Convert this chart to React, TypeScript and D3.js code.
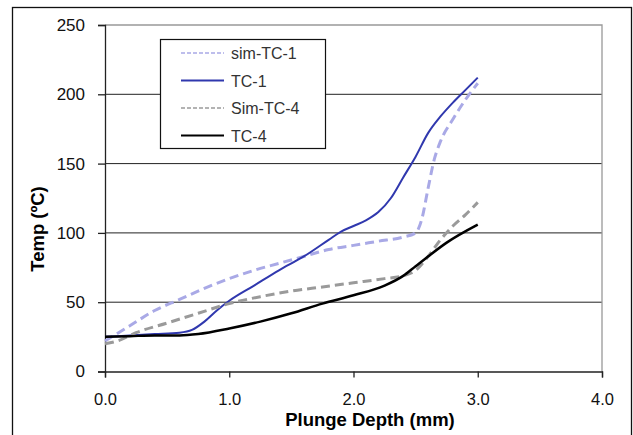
import React, { useEffect, useRef } from 'react';
import * as d3 from 'd3';

// depth (mm), temperature (°C)
const simTC1: [number, number][] = [
  [0, 22], [0.2, 33], [0.4, 44], [0.6, 52], [0.8, 60], [1.0, 67], [1.2, 73], [1.4, 78],
  [1.6, 83], [1.8, 88], [2.0, 91], [2.2, 94], [2.4, 97], [2.5, 100], [2.55, 110],
  [2.6, 132], [2.65, 153], [2.7, 166], [2.8, 182], [2.9, 196], [3.0, 208],
];
const tc1: [number, number][] = [
  [0, 25], [0.2, 26], [0.4, 27], [0.6, 28], [0.7, 30], [0.8, 36], [0.9, 44], [1.0, 51],
  [1.2, 62], [1.4, 73], [1.6, 83], [1.8, 95], [1.9, 101], [2.0, 105], [2.1, 109],
  [2.2, 115], [2.3, 125], [2.4, 140], [2.5, 155], [2.6, 172], [2.7, 184], [2.8, 194],
  [2.9, 203], [3.0, 212],
];
const simTC4: [number, number][] = [
  [0, 20], [0.1, 22], [0.25, 28], [0.5, 35], [0.75, 42], [1.0, 49], [1.25, 54], [1.5, 58],
  [1.75, 61], [2.0, 64], [2.25, 67], [2.4, 69], [2.5, 73], [2.6, 83], [2.7, 95],
  [2.8, 105], [2.9, 113], [3.0, 122],
];
const tc4: [number, number][] = [
  [0, 25], [0.2, 25.5], [0.4, 26], [0.6, 26], [0.75, 27], [1.0, 31], [1.25, 36], [1.5, 42],
  [1.75, 49], [2.0, 55], [2.25, 62], [2.4, 69], [2.5, 76], [2.6, 83], [2.75, 93], [3.0, 106],
];

const xTicks = [0, 1, 2, 3, 4];
const yTicks = [0, 50, 100, 150, 200, 250];

const series = [
  { name: 'sim-TC-1', data: simTC1, color: '#a9a9e6', width: 3, dash: '9,5' },
  { name: 'TC-1', data: tc1, color: '#3038ae', width: 2, dash: null },
  { name: 'Sim-TC-4', data: simTC4, color: '#9a9a9a', width: 3, dash: '9,5' },
  { name: 'TC-4', data: tc4, color: '#000000', width: 2.5, dash: null },
];

function App() {
  const ref = useRef<SVGSVGElement>(null);

  useEffect(() => {
    document.body.style.margin = '0';
    const svg = d3.select(ref.current);
    svg.selectAll('*').remove();
    const font = 'Liberation Sans, Arial, sans-serif';

    // outer frame
    svg.append('rect')
      .attr('x', 12.5).attr('y', 7.5).attr('width', 619).attr('height', 440)
      .attr('fill', 'white').attr('stroke', '#111').attr('stroke-width', 1.3);

    const x = d3.scaleLinear().domain([0, 4]).range([105, 602]);
    const y = d3.scaleLinear().domain([0, 250]).range([371.5, 25]);

    // gridlines
    svg.append('g').selectAll('line')
      .data(yTicks.filter(t => t > 0 && t < 250))
      .enter().append('line')
      .attr('x1', x(0)).attr('x2', x(4))
      .attr('y1', d => y(d)).attr('y2', d => y(d))
      .attr('stroke', '#222').attr('stroke-width', 1);

    // plot border (top/right)
    svg.append('path')
      .attr('d', `M${x(0)},${y(250)}H${x(4)}V${y(0)}`)
      .attr('fill', 'none').attr('stroke', '#999').attr('stroke-width', 1.3);

    // axes
    const xAxis = svg.append('g')
      .attr('transform', `translate(0,${y(0)})`)
      .call(d3.axisBottom(x).tickValues(xTicks).tickFormat(d3.format('.1f')).tickSize(6).tickPadding(16));
    const yAxis = svg.append('g')
      .attr('transform', `translate(${x(0)},0)`)
      .call(d3.axisLeft(y).tickValues(yTicks).tickSize(7).tickPadding(13));
    [xAxis, yAxis].forEach(a => {
      a.select('.domain').attr('stroke', '#222').attr('stroke-width', 1.3);
      a.selectAll('line').attr('stroke', '#222').attr('stroke-width', 1.3);
      a.selectAll('text').attr('font-family', font).attr('fill', '#111');
    });
    xAxis.selectAll('text').attr('font-size', 16.5);
    yAxis.selectAll('text').attr('font-size', 17);

    // axis titles
    svg.append('text')
      .attr('x', 370).attr('y', 426).attr('text-anchor', 'middle')
      .attr('font-family', font).attr('font-size', 18.5).attr('font-weight', 'bold')
      .text('Plunge Depth (mm)');
    svg.append('text')
      .attr('transform', 'translate(44,229) rotate(-90)').attr('text-anchor', 'middle')
      .attr('font-family', font).attr('font-size', 18.5).attr('font-weight', 'bold')
      .text('Temp (ºC)');

    const line = d3.line<[number, number]>()
      .x(d => x(d[0])).y(d => y(d[1]))
      .curve(d3.curveMonotoneX);

    series.forEach(s => {
      svg.append('path')
        .attr('d', line(s.data))
        .attr('fill', 'none')
        .attr('stroke', s.color)
        .attr('stroke-width', s.width)
        .attr('stroke-dasharray', s.dash)
        .attr('stroke-linejoin', 'round');
    });

    // legend
    const lg = svg.append('g');
    lg.append('rect')
      .attr('x', 160.5).attr('y', 39.5).attr('width', 165).attr('height', 109)
      .attr('fill', 'white').attr('stroke', '#111').attr('stroke-width', 1.2);
    series.forEach((s, i) => {
      const yy = 53 + i * 27.5;
      lg.append('line')
        .attr('x1', 181).attr('x2', 224).attr('y1', yy).attr('y2', yy)
        .attr('stroke', s.color).attr('stroke-width', s.dash ? 1.5 : 2)
        .attr('stroke-dasharray', s.dash ? '4,2' : null);
      lg.append('text')
        .attr('x', 231).attr('y', yy + 6)
        .attr('font-family', font).attr('font-size', 16).attr('fill', '#333')
        .text(s.name);
    });
  }, []);

  return <svg ref={ref} width={633} height={435} style={{ display: 'block' }} />;
}

export default App;
